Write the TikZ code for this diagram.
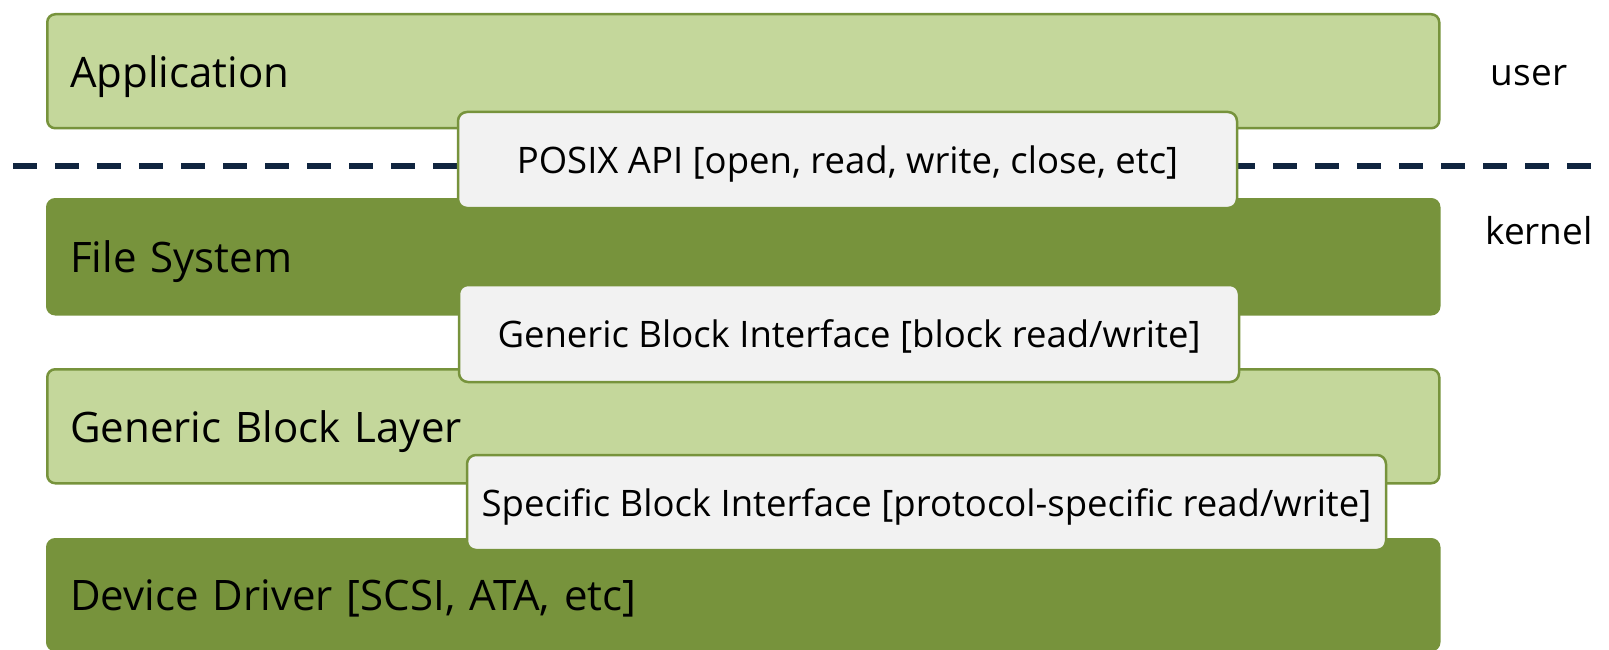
\documentclass[tikz,border=0pt]{standalone}
\usepackage{fontspec}
\setmainfont{Open Sans}
\definecolor{lightg}{HTML}{C4D79B}
\definecolor{darkg}{HTML}{77933C}
\definecolor{ifacefill}{HTML}{F2F2F2}
\definecolor{navy}{HTML}{10253F}
\tikzset{
  layer/.style={rectangle, rounded corners=8pt, line width=2.5pt, anchor=north west,
    minimum width=1392pt, text width=1346pt, inner xsep=23pt, inner ysep=0pt, align=left,
    font=\fontsize{42}{50}\selectfont, text=black, text depth=0pt},
  lightlayer/.style={layer, draw=darkg, fill=lightg},
  darklayer/.style={layer, draw=darkg, fill=darkg},
  iface/.style={rectangle, rounded corners=9pt, draw=darkg, fill=ifacefill, line width=2.5pt,
    font=\fontsize{36.5}{44}\selectfont, align=center, inner sep=0pt, text=black, text depth=0pt},
  side/.style={font=\fontsize{37}{44}\selectfont, text=black, inner sep=0pt},
  divider/.style={draw=navy, line width=6pt, dash pattern=on 24pt off 18pt}
}
\begin{document}
\begin{tikzpicture}[x=1pt,y=-1pt]
\clip (0,0) rectangle (1609,650);
\node[lightlayer, minimum height=114pt] (app) at (46,13) {Application};
\node[darklayer, minimum height=115pt] (fs) at (46,198) {File System};
\node[lightlayer, minimum height=114pt] (gbl) at (46,368) {Generic Block Layer};
\node[darklayer, minimum height=111pt] (dd) at (46,538) {Device Driver [SCSI, ATA, etc]};
\coordinate (dl) at (13,166);
\coordinate (dr) at (1625,166);
\draw[divider] (dl) -- (dr);
\node[iface, minimum width=779pt, minimum height=96pt] (posix) at (847.5,160) {POSIX API [open, read, write, close, etc]};
\node[iface, minimum width=780pt, minimum height=97pt] (gbi) at (849,333.5) {Generic Block Interface [block read/write]};
\node[iface, minimum width=919pt, minimum height=95pt] (sbi) at (926.5,502.5) {Specific Block Interface [protocol-specific read/write]};
\node[side] (user) at (1529,76) {user};
\node[side] (kernel) at (1539,231) {kernel};
\end{tikzpicture}
\end{document}
